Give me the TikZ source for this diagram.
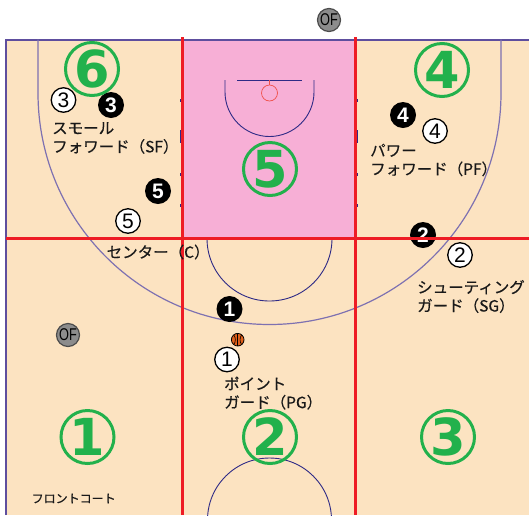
\documentclass[tikz,border=0pt]{standalone}
\usepackage{graphicx}
\usepackage{fontspec}
\setmainfont{Noto Sans CJK JP}[FakeBold=0.4]
\newfontfamily\zonefont{DejaVu Sans}
\newfontfamily\digitfont{Liberation Sans}

\definecolor{floor}{HTML}{FCE3C1}
\definecolor{paint}{HTML}{F7AFD6}
\definecolor{zonered}{HTML}{EE1C25}
\definecolor{zonegreen}{HTML}{22B14C}
\definecolor{linenavy}{HTML}{2E2A86}
\definecolor{edgepurple}{HTML}{5E4E9E}
\definecolor{ballorange}{HTML}{E2601A}
\definecolor{rimred}{HTML}{F0504A}

\begin{document}
\begin{tikzpicture}[x=1pt, y=-1pt,
    courtline/.style={draw=linenavy, line width=0.9pt},
    zoneline/.style={draw=zonered, line width=3pt},
    zone/.style={circle, draw=zonegreen, line width=3pt, text=zonegreen, minimum size=53pt, inner sep=0pt, font=\zonefont\bfseries\fontsize{51}{51}\selectfont},
    defense/.style={circle, fill=black, text=white, minimum size=26pt, inner sep=0pt, font=\digitfont\bfseries\fontsize{21}{21}\selectfont},
    offense/.style={circle, fill=white, draw=black, line width=1.3pt, minimum size=24.5pt, inner sep=0pt, font=\digitfont\fontsize{21}{21}\selectfont},
    official/.style={circle, fill=black!45, draw=black!70, line width=1.2pt, minimum size=23pt, inner sep=0pt, text=black, font=\digitfont\fontsize{17}{17}\selectfont},
    role/.style={anchor=west, align=left, inner sep=0pt, text=black!90, font=\fontsize{15.5}{18.5}\selectfont}]
    \useasboundingbox (0,0) rectangle (529,515);
    \clip (0,0) rectangle (529,515);

    % Floor and paint
    \fill[floor] (6,39.5) rectangle (529,515);
    \fill[paint] (182.5,39.5) rectangle (355,238.5);

    % Court lines
    \draw[edgepurple, line width=2pt] (6,515) -- (6,39.5) -- (529,39.5);
    \draw[edgepurple!80, line width=1.2pt] (38,39.5) -- (38,93) arc[start angle=180, end angle=0, radius=231.5] -- (501,39.5);
    \draw[courtline] (225,80) -- (225,92) arc[start angle=180, end angle=0, radius=44.5] -- (314,80);
    \draw[courtline] (237,80) -- (302,80);
    \draw[rimred, line width=0.7pt] (269.5,80) -- (269.5,85);
    \draw[rimred, line width=0.7pt] (269.5,93) circle[radius=8];
    \draw[courtline] (207,238.5) arc[start angle=180, end angle=0, radius=62.5];
    \draw[courtline] (269.5,520) circle[radius=62];

    % Lane marks
    \foreach \x in {179.5,355}{
        \foreach \y in {99,173,204}
            \fill[linenavy] (\x,\y) rectangle ++(3,2.5);
        \fill[linenavy] (\x,130) rectangle ++(3,13);
    }

    % Officials
    \node[official] (of1) at (329,20) {\scalebox{0.75}[1]{OF}};
    \node[official] (of2) at (68,335) {\scalebox{0.75}[1]{OF}};

    % Defense
    \node[defense] (x1) at (229.5,309) {1};
    \node[defense] (x2) at (423,235) {2};
    \node[defense] (x3) at (111,105) {3};
    \node[defense] (x4) at (403,115) {4};
    \node[defense] (x5) at (158,191) {5};

    % Offense
    \node[offense] (pg) at (227,359.5) {1};
    \node[offense] (sg) at (460,255) {2};
    \node[offense] (sf) at (63.5,100) {3};
    \node[offense] (pf) at (435,131) {4};
    \node[offense] (c) at (128,221) {5};

    % Ball
    \fill[ballorange, draw=black, line width=0.8pt] (237.7,339.7) circle[radius=6.3];
    \draw[line width=0.6pt] (237.7,333.4) -- (237.7,346);
    \draw[line width=0.6pt] (233.7,334.8) .. controls (235.9,337.5) and (235.9,341.9) .. (233.7,344.6);
    \draw[line width=0.6pt] (241.7,334.8) .. controls (239.5,337.5) and (239.5,341.9) .. (241.7,344.6);

    % Zone borders
    \draw[zoneline] (182.5,37) -- (182.5,515);
    \draw[zoneline] (355,37) -- (355,515);
    \draw[zoneline] (6,238.5) -- (529,238.5);

    % Zone numbers
    \node[zone] (z1) at (87.5,437) {1};
    \node[zone] (z2) at (270,437) {2};
    \node[zone] (z3) at (448,437) {3};
    \node[zone] (z4) at (442,70) {4};
    \node[zone] (z5) at (270,169) {5};
    \node[zone] (z6) at (92,69) {6};

    % Position names
    \node[role] (sfname) at (52,138) {スモール\\フォワード（SF）};
    \node[role] (pfname) at (370,160) {パワー\\フォワード（PF）};
    \node[role] (cname) at (106.5,252) {センター（C）};
    \node[role] (sgname) at (417,296.5) {シューティング\\ガード（SG）};
    \node[role] (pgname) at (224,393) {ポイント\\ガード（PG）};
    \node[role, font=\fontsize{12}{14}\selectfont] (front) at (31.5,498.5) {フロントコート};
\end{tikzpicture}
\end{document}
